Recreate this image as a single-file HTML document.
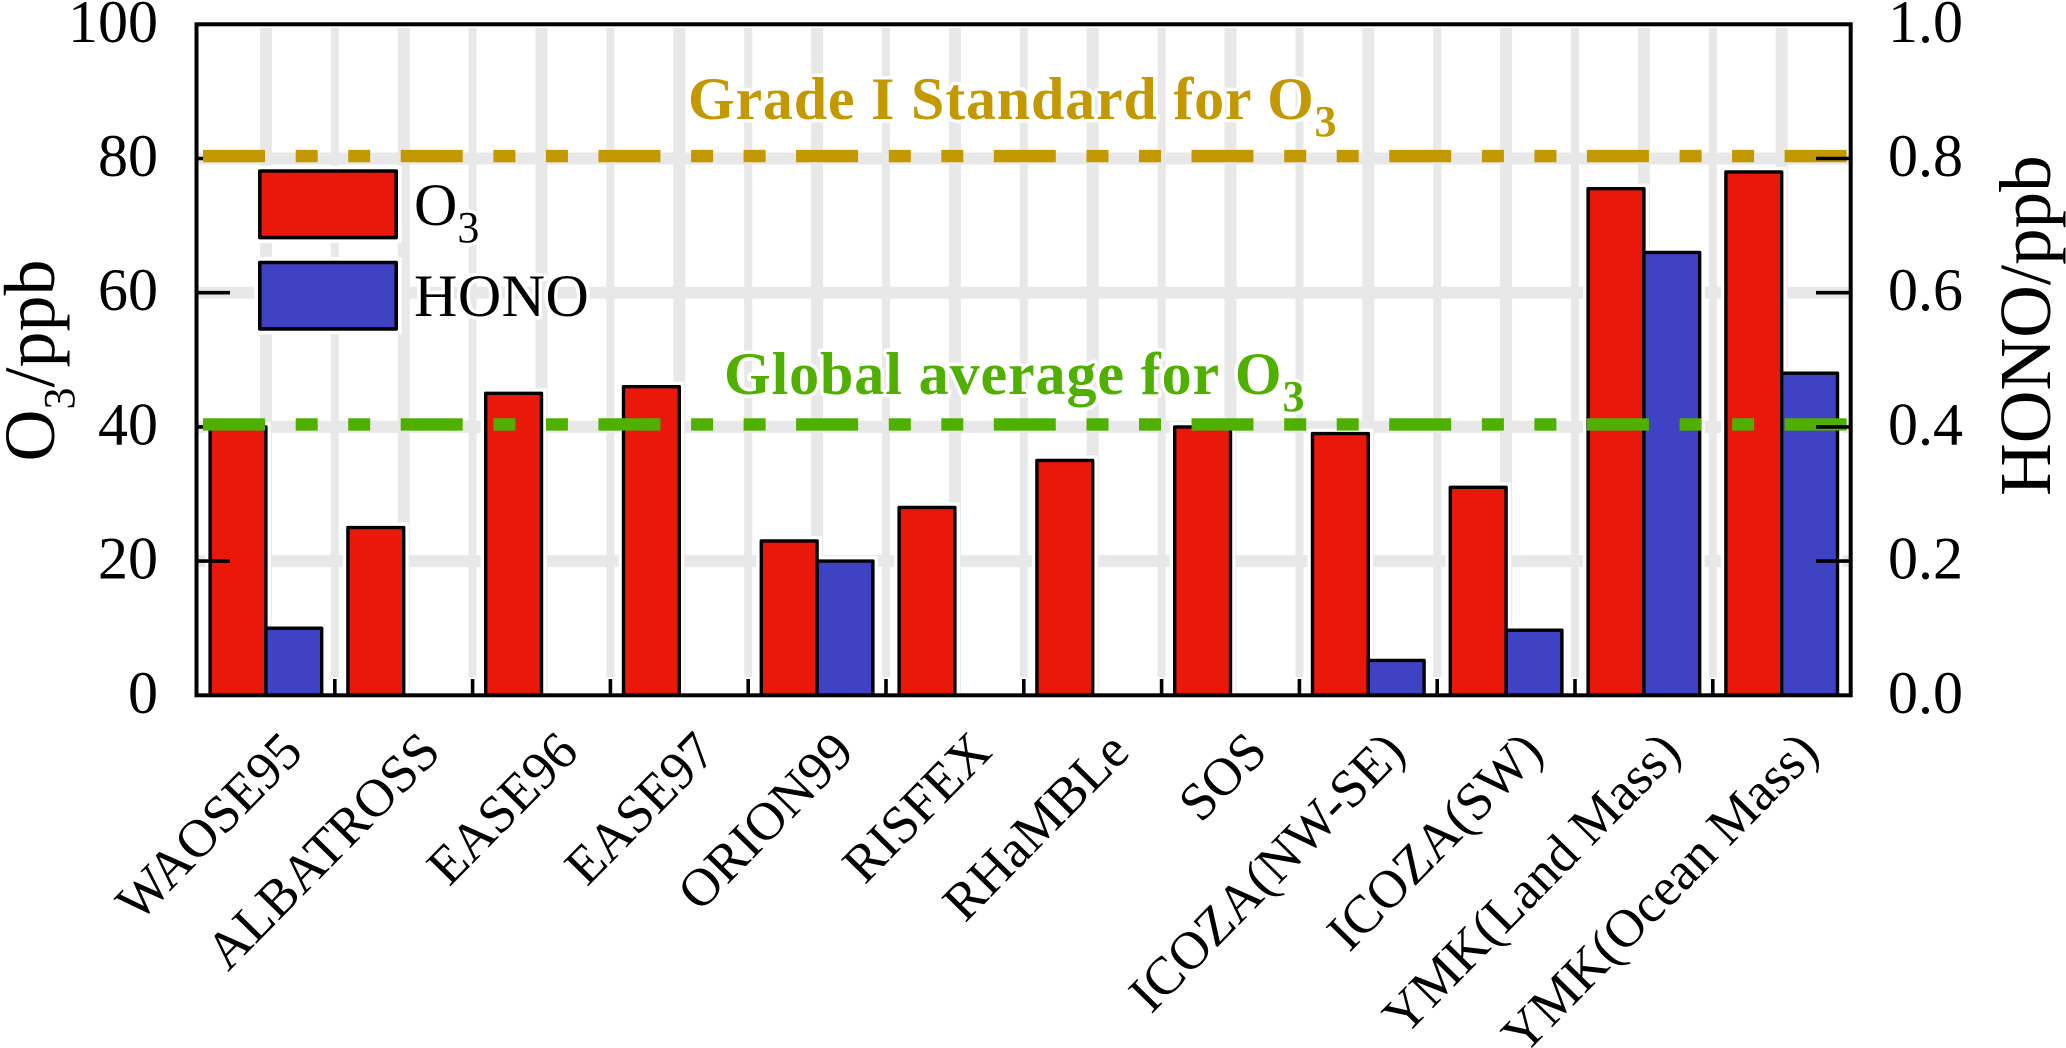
<!DOCTYPE html>
<html lang="en">
<head>
<meta charset="utf-8">
<title>O3 and HONO by campaign</title>
<style>
html,body{margin:0;padding:0;background:#fff;}
svg{display:block;}
text{font-family:"Liberation Serif",serif;fill:#000;}
.halo{paint-order:stroke;stroke:#fff;stroke-width:7px;stroke-linejoin:round;}
</style>
</head>
<body>
<svg id="chart" xmlns="http://www.w3.org/2000/svg" width="2066" height="1048" viewBox="0 0 2066 1048">
  <rect x="0" y="0" width="2066" height="1048" fill="#fff"/>
  <g id="grid"></g>
  <g id="halos"></g>
  <g id="bars"></g>
  <g id="ticksLeft"></g>
  <g id="refLines"></g>
  <g id="ticksRight"></g>
  <g id="ticksBottom"></g>
  <rect x="196.5" y="24.3" width="1654.2" height="671" fill="none" stroke="#000" stroke-width="4"/>
  <g id="labelsLeft"></g>
  <g id="labelsRight"></g>
  <g id="labelsBottom"></g>

  <g>
    <rect x="259.8" y="171" width="136.4" height="66.6" fill="#ea170b" stroke="#fff" stroke-width="11"/>
    <rect x="259.8" y="262.5" width="136.4" height="66.4" fill="#4042c4" stroke="#fff" stroke-width="11"/>
    <rect x="259.8" y="171" width="136.4" height="66.6" fill="#ea170b" stroke="#000" stroke-width="3.6" stroke-linejoin="round"/>
    <rect x="259.8" y="262.5" width="136.4" height="66.4" fill="#4042c4" stroke="#000" stroke-width="3.6" stroke-linejoin="round"/>
    <text class="halo" x="414" y="225" font-size="60">O<tspan font-size="44" dy="17">3</tspan></text>
    <text class="halo" x="414" y="316" font-size="60" letter-spacing="0.5">HONO</text>
  </g>

  <text class="halo" x="688" y="119" font-size="60" font-weight="bold" letter-spacing="0.8" style="fill:#c49800">Grade I Standard for O<tspan font-size="44" dy="17">3</tspan></text>
  <text class="halo" x="724" y="394" font-size="60" font-weight="bold" letter-spacing="0.9" style="fill:#50b000">Global average for O<tspan font-size="44" dy="17">3</tspan></text>

  <text transform="translate(54 461.5) rotate(-90)" font-size="72">O<tspan font-size="44" dy="20">3</tspan><tspan dy="-20">/ppb</tspan></text>
  <text transform="translate(2050 496) rotate(-90)" font-size="73">HONO/ppb</text>
</svg>

<script>
const categories = ["WAOSE95","ALBATROSS","EASE96","EASE97","ORION99","RISFEX","RHaMBLe","SOS","ICOZA(NW-SE)","ICOZA(SW)","YMK(Land Mass)","YMK(Ocean Mass)"];
const o3Values = [40,25,45,46,23,28,35,40,39,31,75.5,78];
const honoValues = [0.1,0,0,0,0.2,0,0,0,0.052,0.097,0.66,0.48];
const o3Ticks = [0,20,40,60,80,100];
const o3TickLabels = ["0","20","40","60","80","100"];
const honoTicks = [0,0.2,0.4,0.6,0.8,1.0];
const honoTickLabels = ["0.0","0.2","0.4","0.6","0.8","1.0"];
const innerTicks = [20,40,60,80];
const gradeStandard = [80.3];
const globalAverage = [40.3];

const NS = "http://www.w3.org/2000/svg";
const plotLeft = 197, plotRight = 1850.7, plotTop = 24.3, plotBottom = 695.3;
const bandWidth = 137.8, barWidth = 55.8;
const o3Max = 100, honoMax = 1;

function bandEdge(i){ return plotLeft + bandWidth * i; }
function bandCenter(i){ return plotLeft + bandWidth * (i + 0.5); }
function yLeft(v){ return plotBottom - (v / o3Max) * (plotBottom - plotTop); }
function yRight(v){ return plotBottom - (v / honoMax) * (plotBottom - plotTop); }

function make(tag, attrs, parentId){
  const el = document.createElementNS(NS, tag);
  for (const k in attrs) el.setAttribute(k, attrs[k]);
  document.getElementById(parentId).appendChild(el);
  return el;
}

/* gridlines */
o3Ticks.forEach(function(v){
  if (v === 0 || v === 100) return;
  const el = make("line", {x1:198.5, x2:1849, y1:yLeft(v), y2:yLeft(v), stroke:"#e8e8e8", "stroke-width":12}, "grid");
  
  
});
categories.forEach(function(c, i){
  const major = make("line", {x1:bandCenter(i), x2:bandCenter(i), y1:28, y2:693, stroke:"#e8e8e8", "stroke-width":12}, "grid");
  
  
  if (i > 0) {
    const minor = make("line", {x1:bandEdge(i), x2:bandEdge(i), y1:28, y2:693, stroke:"#e8e8e8", "stroke-width":8}, "grid");
    
    
  }
});

/* bars */
function drawBar(x, top, fill, name){
  const h = plotBottom - top;
  const halo = make("rect", {x:x, y:top, width:barWidth, height:h, fill:"#fff", stroke:"#fff", "stroke-width":h > 0 ? 10 : 0}, "halos");
  
  
  const bar = make("rect", {x:x, y:top, width:barWidth, height:h, fill:fill, stroke:"#000", "stroke-width":3.4, "stroke-linejoin":"round"}, "bars");
  
  
}
categories.forEach(function(c, i){
  drawBar(bandCenter(i) - barWidth, yLeft(o3Values[i]), "#ea170b", "bar-o3");
  drawBar(bandCenter(i), yRight(honoValues[i]), "#4042c4", "bar-hono");
});

/* left ticks */
innerTicks.forEach(function(v){
  const t = make("line", {x1:197, x2:230, y1:yLeft(v), y2:yLeft(v), stroke:"#000", "stroke-width":3.6}, "ticksLeft");
  
  
});

/* reference lines */
const dashPattern = "62 30.7 22 30.5 22 30.5";
const gold = make("line", {x1:203, x2:1847, y1:yLeft(gradeStandard[0]) - 0.4, y2:yLeft(gradeStandard[0]) - 0.4, stroke:"#c49800", "stroke-width":12.4, "stroke-dasharray":dashPattern}, "refLines");


const green = make("line", {x1:203, x2:1847, y1:yLeft(globalAverage[0]) - 0.4, y2:yLeft(globalAverage[0]) - 0.4, stroke:"#50b000", "stroke-width":12.4, "stroke-dasharray":dashPattern}, "refLines");



/* right ticks */
innerTicks.forEach(function(v){
  const t = make("line", {x1:1816, x2:1850, y1:yLeft(v), y2:yLeft(v), stroke:"#000", "stroke-width":3.6}, "ticksRight");
  
  
});

/* bottom ticks */
categories.forEach(function(c, i){
  if (i === 0) return;
  const w = make("line", {x1:bandEdge(i), x2:bandEdge(i), y1:677, y2:694, stroke:"#fff", "stroke-width":8.5}, "ticksBottom");
  
  
  const t = make("line", {x1:bandEdge(i), x2:bandEdge(i), y1:679, y2:695, stroke:"#000", "stroke-width":3.6}, "ticksBottom");
  
  
});

/* tick labels */
o3Ticks.forEach(function(v, i){
  const t = make("text", {x:158, y:yLeft(v) + 17.5, "text-anchor":"end", "font-size":60}, "labelsLeft");
  t.textContent = o3TickLabels[i];
  
  
});
honoTicks.forEach(function(v, i){
  const t = make("text", {x:1888, y:yRight(v) + 17.5, "font-size":60}, "labelsRight");
  t.textContent = honoTickLabels[i];
  
  
});
categories.forEach(function(c, i){
  const ax = bandCenter(i) + 39, ay = 754;
  const t = make("text", {x:ax, y:ay, "text-anchor":"end", "font-size":53.5, transform:"rotate(-45.5 " + ax + " " + ay + ")"}, "labelsBottom");
  t.textContent = c;
  
  
});
</script>
</body>
</html>
